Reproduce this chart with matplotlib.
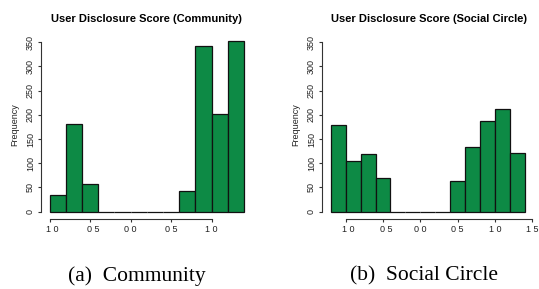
import numpy as np
import matplotlib
matplotlib.use('Agg')
import matplotlib.pyplot as plt
from matplotlib.transforms import ScaledTranslation

plt.rcParams['font.family'] = ['Liberation Sans', 'DejaVu Sans']

# histogram data, bins of 0.2
commEdges = np.round(np.arange(-1.0, 1.41, 0.2), 1)
commCounts = [35, 182, 57, 0, 0, 0, 0, 0, 42, 343, 202, 353]

socialEdges = np.round(np.arange(-1.2, 1.41, 0.2), 1)
socialCounts = [178, 105, 119, 69, 0, 0, 0, 0, 64, 134, 187, 211, 121]

commTicks = [-1.0, -0.5, 0.0, 0.5, 1.0]
commTickLabels = ['1 0', '0 5', '0 0', '0 5', '1 0']
socialTicks = [-1.0, -0.5, 0.0, 0.5, 1.0, 1.5]
socialTickLabels = ['1 0', '0 5', '0 0', '0 5', '1 0', '1 5']
yTicks = [0, 50, 100, 150, 200, 250, 300, 350]

titles = ['User Disclosure Score (Community)', 'User Disclosure Score (Social Circle)']
captions = ['(a)  Community', '(b)  Social Circle']

green = '#0d8a45'
W, H = 539.0, 289.0

fig = plt.figure(figsize=(W / 100, H / 100), dpi=100)

# pixel boxes: left, right, bottom, top
boxes = [(41, 252, 219, 30), (322, 536, 219, 30)]
xlims = [(-1.106, 1.50), (-1.317, 1.548)]
ylim = (-15.1, 375)

panels = [(commEdges, commCounts, commTicks, commTickLabels),
          (socialEdges, socialCounts, socialTicks, socialTickLabels)]

for i, (edges, counts, ticks, tickLabels) in enumerate(panels):
    l, r, b, t = boxes[i]
    ax = fig.add_axes([l / W, 1 - b / H, (r - l) / W, (b - t) / H])
    ax.bar(edges[:-1], counts, width=0.2, align='edge', color=green,
           edgecolor='#111111', linewidth=0.9)
    ax.set_xlim(*xlims[i])
    ax.set_ylim(*ylim)

    for s in ['top', 'right']:
        ax.spines[s].set_visible(False)
    ax.spines['left'].set_bounds(0, 350)
    ax.spines['bottom'].set_bounds(ticks[0], ticks[-1])
    for s in ['left', 'bottom']:
        ax.spines[s].set_color('#333333')
        ax.spines[s].set_linewidth(0.8)

    ax.set_yticks(yTicks)
    ax.set_yticklabels([str(v) for v in yTicks])
    ax.set_xticks(ticks)
    ax.set_xticklabels(tickLabels)
    ax.tick_params(axis='both', length=2.3, width=0.8, color='#333333',
                   labelsize=6.5, labelcolor='#222222', pad=2)
    for lab in ax.get_yticklabels():
        lab.set_rotation(90)
        lab.set_va('center')
    # minus sign missing in the original, so negative labels sit a bit right
    shift = ScaledTranslation(3 / 100, 0, fig.dpi_scale_trans)
    for tick, val in zip(ax.xaxis.get_major_ticks(), ticks):
        if val < 0:
            tick.label1.set_transform(tick.label1.get_transform() + shift)

    ax.set_ylabel('Frequency', fontsize=6.5, color='#222222')
    ax.yaxis.set_label_coords(-26 / (r - l), 0.5)
    ax.yaxis.label.set_va('center')

    ax.set_title(titles[i], fontsize=8, fontweight='bold', pad=6)

fig.text(137 / W, 1 - 276 / H, captions[0], family='Liberation Serif',
         fontsize=15.5, ha='center', va='center')
fig.text(424 / W, 1 - 276 / H, captions[1], family='Liberation Serif',
         fontsize=15.5, ha='center', va='center')

plt.savefig('out.png', dpi=100)
